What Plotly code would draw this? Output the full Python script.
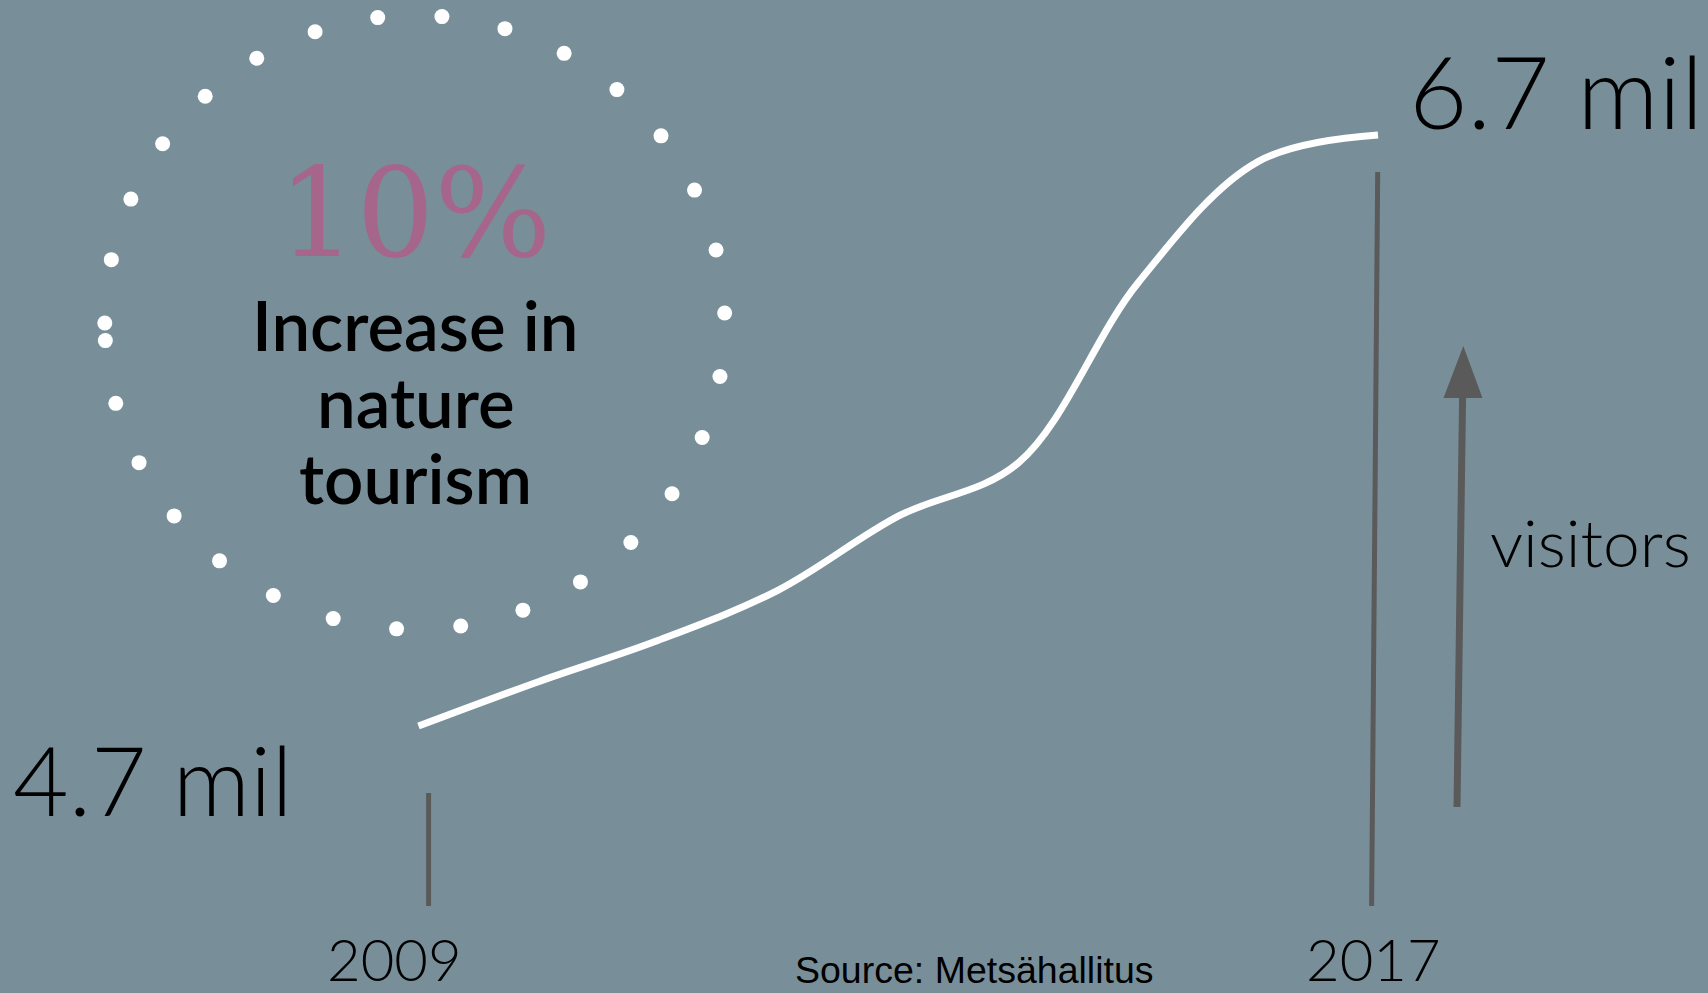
import numpy as np
import plotly.graph_objects as go

# ---------------- data ----------------
years = [2009, 2010, 2011, 2012, 2013, 2014, 2015, 2016, 2017]
visitors_mil = [4.70, 4.85, 4.99, 5.16, 5.41, 5.59, 6.20, 6.61, 6.70]
start_label = "4.7 mil"
end_label = "6.7 mil"
year_labels = ["2009", "2017"]
headline = "10%"
subtitle_lines = ["Increase in", "nature", "tourism"]
unit_label = "visitors"
source_text = "Source: Metsähallitus"

# ---------------- layout constants ----------------
W, H = 1708, 993
BG = "rgb(120,143,154)"
GREY = "#5a5a5a"
PINK = "#a6668c"

# pixel anchors of the data scale (where 2009/4.7 and 2017/6.7 sit)
px_first, px_last = 418.5, 1378.0
py_first, py_last = 726.0, 135.0
ppy = (px_last - px_first) / (years[-1] - years[0])          # px per year
ppv = (py_first - py_last) / (visitors_mil[-1] - visitors_mil[0])  # px per million
x_range = [years[0] - px_first / ppy, years[0] + (W - px_first) / ppy]
y_range = [visitors_mil[0] - (H - py_first) / ppv, visitors_mil[0] + py_first / ppv]

fig = go.Figure()

# decorative dotted ring (pixel overlay axes)
cx, cy, rx, ry = 414.8, 322.4, 310.0, 307.0
n_dots = 31
ang = np.deg2rad(176.6 - 11.89 * np.arange(n_dots))
fig.add_trace(go.Scatter(
    x=cx + rx * np.cos(ang), y=cy + ry * np.sin(ang),
    mode="markers", marker=dict(size=15, color="white", line=dict(width=0)),
    xaxis="x2", yaxis="y2", hoverinfo="skip", showlegend=False,
))

# the data line
fig.add_trace(go.Scatter(
    x=years, y=visitors_mil, mode="lines",
    line=dict(color="white", width=7, shape="spline", smoothing=1.0),
    hoverinfo="skip", showlegend=False, cliponaxis=False,
))

# ---------------- shapes (pixel overlay) ----------------
shapes = [
    dict(type="line", xref="x2", yref="y2", x0=428.6, y0=793, x1=428.6, y1=906,
         line=dict(color=GREY, width=5)),
    dict(type="line", xref="x2", yref="y2", x0=1377.7, y0=172, x1=1371.6, y1=906,
         line=dict(color=GREY, width=5)),
    dict(type="line", xref="x2", yref="y2", x0=1457.0, y0=807, x1=1462.6, y1=396,
         line=dict(color=GREY, width=7)),
    dict(type="path", xref="x2", yref="y2",
         path="M 1463.3 346 L 1443.5 398 L 1482.5 398 Z",
         fillcolor=GREY, line=dict(color=GREY, width=0)),
]

def ann(text, x, y, size, family, color="black", weight=400, xanchor="center"):
    return dict(text=text, x=x, y=y, xref="x2", yref="y2", showarrow=False,
                xanchor=xanchor, yanchor="middle",
                font=dict(size=size, family=family, color=color, weight=weight))

LIGHT = "Lato, Raleway, sans-serif"
annotations = [
    ann(headline, 414, 213, 123, "DejaVu Serif, serif", color=PINK),
    ann(subtitle_lines[0], 415.5, 324, 69, LIGHT, weight=600),
    ann(subtitle_lines[1], 415.5, 401, 69, LIGHT, weight=600),
    ann(subtitle_lines[2], 415.5, 477, 69, LIGHT, weight=600),
    ann(end_label, 1407, 90, 101, LIGHT, weight=300, xanchor="left"),
    ann(start_label, 11, 778, 96, LIGHT, weight=300, xanchor="left"),
    ann(unit_label, 1488, 541, 66, LIGHT, weight=300, xanchor="left"),
    ann(year_labels[0], 394.5, 958, 58, LIGHT, weight=300),
    ann(year_labels[1], 1373.5, 958, 58, LIGHT, weight=300),
    ann(source_text, 974, 970, 37.5, "Liberation Sans, Arial, sans-serif"),
]

fig.update_layout(
    width=W, height=H,
    margin=dict(l=0, r=0, t=0, b=0, pad=0),
    paper_bgcolor=BG, plot_bgcolor=BG,
    showlegend=False, hovermode=False,
    xaxis=dict(range=x_range, domain=[0, 1], visible=False, fixedrange=True),
    yaxis=dict(range=y_range, domain=[0, 1], visible=False, fixedrange=True),
    xaxis2=dict(range=[0, W], domain=[0, 1], visible=False, overlaying="x",
                anchor="y2", fixedrange=True),
    yaxis2=dict(range=[H, 0], domain=[0, 1], visible=False, overlaying="y",
                anchor="x2", fixedrange=True),
    shapes=shapes,
    annotations=annotations,
)

fig.write_html(
    "out.html",
    config={"displayModeBar": False},
    post_script="document.body.style.margin='0';document.body.style.overflow='hidden';",
)
